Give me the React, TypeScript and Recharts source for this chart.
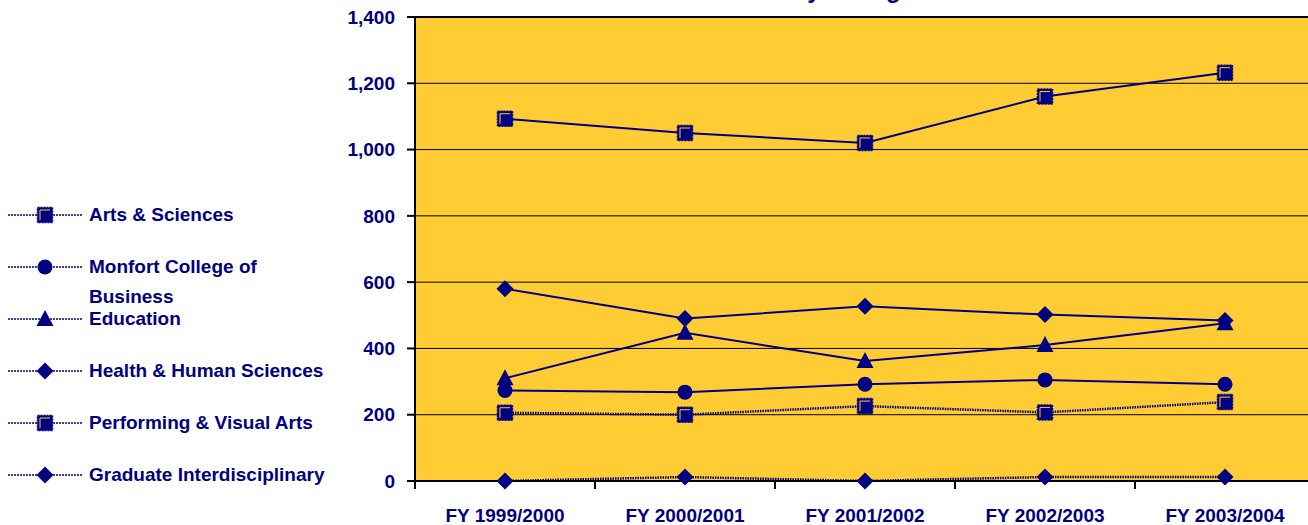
import React from 'react';
import { LineChart, Line, XAxis, YAxis, CartesianGrid, ReferenceLine } from 'recharts';

const NAVY = '#000080';
const BG = '#FFCC33';
const FONT = "'Liberation Sans', Arial, sans-serif";

const categories = ['FY 1999/2000', 'FY 2000/2001', 'FY 2001/2002', 'FY 2002/2003', 'FY 2003/2004'];
const artsSciences = [1093, 1050, 1020, 1160, 1232];
const monfort = [273, 268, 292, 305, 292];
const education = [310, 447, 362, 410, 476];
const healthHuman = [580, 490, 527, 502, 484];
const performing = [206, 200, 226, 207, 238];
const graduate = [0, 12, 0, 12, 12];

const yTicks = [0, 200, 400, 600, 800, 1000, 1200, 1400];
const yMinorTicks = [100, 300, 500, 700, 900, 1100, 1300];

const rows = categories.map((name, i) => ({
  name,
  arts: artsSciences[i],
  monfort: monfort[i],
  education: education[i],
  health: healthHuman[i],
  performing: performing[i],
  graduate: graduate[i],
}));

const CHART_W = 1320;
const CHART_H = 525;
const MARGIN = { top: 17, right: 5, bottom: 43, left: 335 };
const Y_AXIS_W = 80;
const BAND_HALF = (CHART_W - MARGIN.left - MARGIN.right - Y_AXIS_W) / categories.length / 2;

type Shape = 'square' | 'circle' | 'triangle' | 'diamond';

const Marker = ({ cx, cy, shape }: { cx: number; cy: number; shape: Shape }) => {
  if (shape === 'square') {
    return (
      <g>
        <rect x={cx - 7.5} y={cy - 7.5} width={15} height={15} fill={NAVY} stroke={NAVY} strokeWidth={1.5} strokeDasharray="2 1" />
        <polyline points={`${cx - 5},${cy + 5} ${cx - 5},${cy - 5} ${cx + 5},${cy - 5}`} fill="none" stroke={BG} strokeWidth={1} />
      </g>
    );
  }
  if (shape === 'circle') return <circle cx={cx} cy={cy} r={7.5} fill={NAVY} />;
  if (shape === 'triangle') {
    return <polygon points={`${cx},${cy - 9} ${cx + 8.5},${cy + 7} ${cx - 8.5},${cy + 7}`} fill={NAVY} />;
  }
  return <polygon points={`${cx},${cy - 8.5} ${cx + 8.5},${cy} ${cx},${cy + 8.5} ${cx - 8.5},${cy}`} fill={NAVY} />;
};

const series: { key: string; name: string; shape: Shape; dashed: boolean }[] = [
  { key: 'arts', name: 'Arts & Sciences', shape: 'square', dashed: false },
  { key: 'monfort', name: 'Monfort College of Business', shape: 'circle', dashed: false },
  { key: 'education', name: 'Education', shape: 'triangle', dashed: false },
  { key: 'health', name: 'Health & Human Sciences', shape: 'diamond', dashed: false },
  { key: 'performing', name: 'Performing & Visual Arts', shape: 'square', dashed: true },
  { key: 'graduate', name: 'Graduate Interdisciplinary', shape: 'diamond', dashed: true },
];

const XTick = (props: any) => {
  const { x, y, payload, index } = props;
  return (
    <g>
      <line x1={x - BAND_HALF} y1={y} x2={x - BAND_HALF} y2={y + 8} stroke="#000" strokeWidth={2} />
      {index === categories.length - 1 && (
        <line x1={x + BAND_HALF} y1={y} x2={x + BAND_HALF} y2={y + 8} stroke="#000" strokeWidth={2} />
      )}
      <text x={x} y={y + 41} textAnchor="middle" fill={NAVY} fontFamily={FONT} fontWeight="bold" fontSize={19}>
        {payload.value}
      </text>
    </g>
  );
};

const Legend = () => (
  <div style={{ position: 'absolute', left: 0, top: 0 }}>
    {series.map((s, i) => (
      <div key={s.key} style={{ position: 'absolute', left: 0, top: 215 + i * 52 - 15, height: 30 }}>
        <svg width={90} height={30} style={{ position: 'absolute', left: 0, top: 0 }}>
          <line x1={8} y1={15} x2={82} y2={15} stroke={NAVY} strokeWidth={1.5} strokeDasharray="2 1" />
          <Marker cx={45} cy={15} shape={s.shape} />
        </svg>
        <div
          style={{
            position: 'absolute',
            left: 89,
            top: 0,
            width: 245,
            lineHeight: '30px',
            fontFamily: FONT,
            fontWeight: 'bold',
            fontSize: 19,
            color: NAVY,
          }}
        >
          {s.name}
        </div>
      </div>
    ))}
  </div>
);

export default function App() {
  return (
    <div style={{ position: 'fixed', left: 0, top: 0, width: 1308, height: 525, overflow: 'hidden', background: '#fff' }}>
      <div
        style={{
          position: 'absolute',
          right: 394,
          top: -22,
          lineHeight: '24px',
          fontSize: 24,
          fontFamily: FONT,
          fontWeight: 'bold',
          color: NAVY,
          whiteSpace: 'nowrap',
        }}
      >
        Fall Enrollment by College
      </div>
      <Legend />
      <div style={{ position: 'absolute', left: 0, top: 0 }}>
        <LineChart width={CHART_W} height={CHART_H} data={rows} margin={MARGIN}>
          <CartesianGrid vertical={false} stroke="#000" strokeWidth={1} fill={BG} fillOpacity={1} />
          <XAxis
            dataKey="name"
            scale="band"
            height={1}
            interval={0}
            tickLine={false}
            tickSize={0}
            tickMargin={0}
            axisLine={{ stroke: '#000', strokeWidth: 2 }}
            tick={<XTick />}
          />
          <YAxis
            width={Y_AXIS_W}
            domain={[0, 1400]}
            ticks={yTicks}
            interval={0}
            tickSize={8}
            tickMargin={12}
            tickFormatter={(v: number) => v.toLocaleString('en-US')}
            axisLine={{ stroke: '#000', strokeWidth: 2 }}
            tickLine={{ stroke: '#000', strokeWidth: 2 }}
            tick={{ fill: NAVY, fontFamily: FONT, fontWeight: 'bold', fontSize: 19 }}
          />
          <YAxis
            yAxisId="minor"
            width={1}
            mirror
            domain={[0, 1400]}
            ticks={yMinorTicks}
            interval={0}
            tickSize={7}
            axisLine={false}
            tickLine={{ stroke: '#000', strokeWidth: 2 }}
            tick={() => <g />}
          />
          <ReferenceLine y={1400} stroke="#000" strokeWidth={2} />
          {series.map((s) => (
            <Line
              key={s.key}
              dataKey={s.key}
              name={s.name}
              stroke={NAVY}
              strokeWidth={s.dashed ? 2.5 : 2}
              strokeDasharray={s.dashed ? '1.5 1' : undefined}
              dot={(p: any) => <Marker key={`${s.key}-${p.index}`} cx={p.cx} cy={p.cy} shape={s.shape} />}
              activeDot={false}
              isAnimationActive={false}
            />
          ))}
        </LineChart>
      </div>
    </div>
  );
}
